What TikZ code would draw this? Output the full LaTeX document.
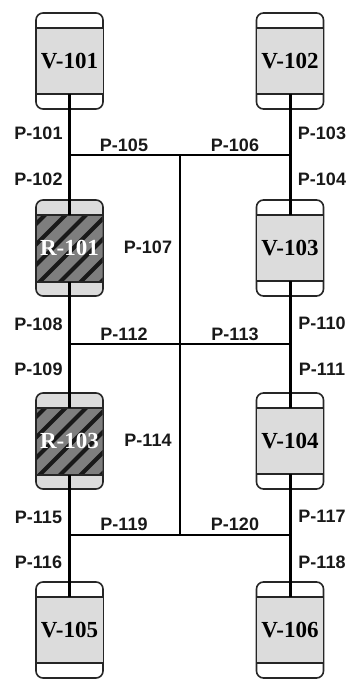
\documentclass[tikz,border=0pt]{standalone}
\usepackage{fontspec}
\setmainfont{Liberation Sans}
\newfontfamily\serifbold{Liberation Serif}
\definecolor{vesselfill}{HTML}{DCDCDC}
\definecolor{hatchgray}{HTML}{7E7E7E}
\tikzset{
  x=1pt,y=-1pt,
  vesselshell/.style={draw=black!85,line width=1.6pt,rounded corners=7pt,minimum width=67pt,minimum height=96pt,inner sep=0pt,fill=white},
  pipe/.style={draw=black,line width=3pt},
  crosspipe/.style={draw=black,line width=2.7pt},
  bandline/.style={draw=black!85,line width=1.6pt},
  plabel/.style={font=\fontsize{18}{18}\selectfont\bfseries,text=black!90,inner sep=0pt,anchor=center},
  vlabel/.style={font=\serifbold\fontsize{23}{23}\selectfont\bfseries,text=black,inner sep=0pt},
  rlabel/.style={font=\serifbold\fontsize{23}{23}\selectfont\bfseries,text=white,inner sep=0pt},
}
% #1 name, #2 cx, #3 top y, #4 label
\newcommand{\plainvessel}[4]{%
  \node[vesselshell] (#1) at (#2,#3+48) {};
  \fill[vesselfill] (#2-33,#3+15) rectangle (#2+33,#3+81);
  \draw[bandline] (#2-33.5,#3+15) -- (#2+33.5,#3+15);
  \draw[bandline] (#2-33.5,#3+81) -- (#2+33.5,#3+81);
  \coordinate (#1top) at (#2,#3+15);
  \coordinate (#1bot) at (#2,#3+81);
  \node[vlabel] (#1text) at (#2,#3+48) {#4};
}
\newcommand{\hatchvessel}[4]{%
  \node[vesselshell,fill=vesselfill] (#1) at (#2,#3+48) {};
  \begin{scope}
    \clip (#2-33,#3+15) rectangle (#2+33,#3+82);
    \fill[hatchgray] (#2-33,#3+15) rectangle (#2+33,#3+82);
    \foreach \k in {-4,...,8}
      \draw[black!90,line width=4pt] (#2-33+\k*20.5,#3+85) -- ++(75,-75);
  \end{scope}
  \draw[bandline] (#2-33.5,#3+15) -- (#2+33.5,#3+15);
  \draw[bandline] (#2-33.5,#3+82) -- (#2+33.5,#3+82);
  \coordinate (#1top) at (#2,#3+15);
  \coordinate (#1bot) at (#2,#3+82);
  \node[rlabel] (#1text) at (#2,#3+48) {#4};
}
\begin{document}
\begin{tikzpicture}
\useasboundingbox (0,0) rectangle (349,679);
\plainvessel{V101}{69.5}{13}{V-101}
\plainvessel{V102}{290}{13}{V-102}
\hatchvessel{R101}{69.5}{200}{R-101}
\plainvessel{V103}{290}{200}{V-103}
\hatchvessel{R103}{69.5}{393}{R-103}
\plainvessel{V104}{290}{393}{V-104}
\plainvessel{V105}{69.5}{582}{V-105}
\plainvessel{V106}{290}{582}{V-106}
\coordinate (JL1) at (69.5,155);
\coordinate (JM1) at (180,155);
\coordinate (JR1) at (290,155);
\coordinate (JL2) at (69.5,344);
\coordinate (JM2) at (180,344);
\coordinate (JR2) at (290,344);
\coordinate (JL3) at (69.5,535);
\coordinate (JM3) at (180,535);
\coordinate (JR3) at (290,535);
\draw[pipe] (V101bot) -- (JL1);
\draw[pipe] (JL1) -- (R101top);
\draw[pipe] (V102bot) -- (JR1);
\draw[pipe] (JR1) -- (V103top);
\draw[pipe] (R101bot) -- (JL2);
\draw[pipe] (JL2) -- (R103top);
\draw[pipe] (V103bot) -- (JR2);
\draw[pipe] (JR2) -- (V104top);
\draw[pipe] (R103bot) -- (JL3);
\draw[pipe] (JL3) -- (V105top);
\draw[pipe] (V104bot) -- (JR3);
\draw[pipe] (JR3) -- (V106top);
\draw[crosspipe] (JL1) -- (JM1);
\draw[crosspipe] (JM1) -- (JR1);
\draw[crosspipe] (JL2) -- (JM2);
\draw[crosspipe] (JM2) -- (JR2);
\draw[crosspipe] (JL3) -- (JM3);
\draw[crosspipe] (JM3) -- (JR3);
\draw[crosspipe] (JM1) -- (JM2);
\draw[crosspipe] (JM2) -- (JM3);
\node[plabel] (p101) at (38.5,133) {P-101};
\node[plabel] (p102) at (38.5,179) {P-102};
\node[plabel] (p103) at (322,133) {P-103};
\node[plabel] (p104) at (322,179) {P-104};
\node[plabel] (p105) at (124,145) {P-105};
\node[plabel] (p106) at (235,145) {P-106};
\node[plabel] (p107) at (148,247) {P-107};
\node[plabel] (p108) at (38.5,324) {P-108};
\node[plabel] (p109) at (38.5,369) {P-109};
\node[plabel] (p110) at (322,323) {P-110};
\node[plabel] (p111) at (322,369) {P-111};
\node[plabel] (p112) at (124,334) {P-112};
\node[plabel] (p113) at (235,334) {P-113};
\node[plabel] (p114) at (148,440) {P-114};
\node[plabel] (p115) at (38.5,517) {P-115};
\node[plabel] (p116) at (38.5,562) {P-116};
\node[plabel] (p117) at (322,516) {P-117};
\node[plabel] (p118) at (322,562) {P-118};
\node[plabel] (p119) at (124,524) {P-119};
\node[plabel] (p120) at (235,524) {P-120};
\end{tikzpicture}
\end{document}
